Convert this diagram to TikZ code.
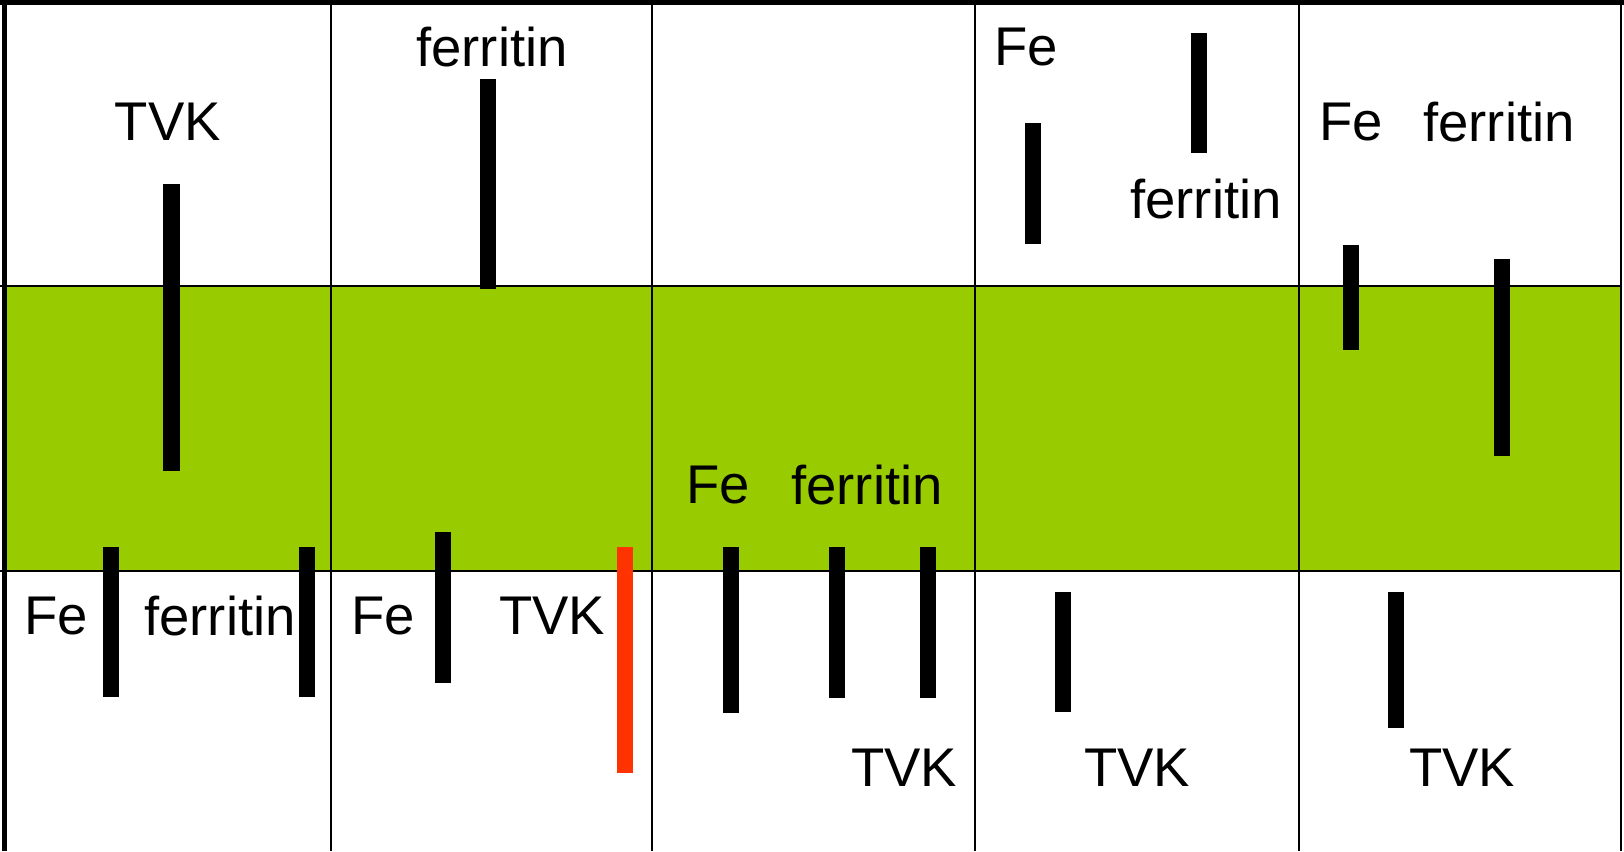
\documentclass[tikz,border=0pt]{standalone}
\usepackage{fontspec}
\setmainfont{Liberation Sans}
\definecolor{bandgreen}{HTML}{99CC00}
\definecolor{barred}{HTML}{FF3300}

\begin{document}
\begin{tikzpicture}[x=0.01cm, y=-0.01cm,
    lbl/.style={font=\fontsize{15.5}{18}\selectfont, inner sep=0pt},
    bar/.style={fill=black},
    redbar/.style={fill=barred},
    gridline/.style={line width=0.6pt},
    frame/.style={line width=1.45pt}]
    \useasboundingbox (0,0) rectangle (1624,851);

    % Green band
    \fill[bandgreen] (7,286) rectangle (1621,571);

    % Grid
    \draw[gridline] (0,286) -- (1621,286);
    \draw[gridline] (0,571) -- (1621,571);
    \foreach \x in {331,652,975,1299,1621}
        \draw[gridline] (\x,0) -- (\x,851);
    \draw[frame] (0,2.5) -- (1624,2.5);
    \draw[frame] (4.5,0) -- (4.5,851);

    % Column 1
    \node[lbl] (tvkA) at (168,122) {TVK};
    \fill[bar] (163,184) rectangle (180,471);
    \node[lbl] (feA) at (56,616) {Fe};
    \fill[bar] (103,547) rectangle (119,697);
    \node[lbl] (ferA) at (220,616) {ferritin};
    \fill[bar] (299,547) rectangle (315,697);

    % Column 2
    \node[lbl] (ferB) at (492,47) {ferritin};
    \fill[bar] (480,79) rectangle (496,289);
    \node[lbl] (feB) at (383,616) {Fe};
    \fill[bar] (435,532) rectangle (451,683);
    \node[lbl] (tvkB) at (552,616) {TVK};
    \fill[redbar] (617,547) rectangle (633,773);

    % Column 3
    \node[lbl] (feC) at (718,485) {Fe};
    \node[lbl] (ferC) at (867,485) {ferritin};
    \fill[bar] (723,547) rectangle (739,713);
    \fill[bar] (829,547) rectangle (845,698);
    \fill[bar] (920,547) rectangle (936,698);
    \node[lbl] (tvkC) at (904,768) {TVK};

    % Column 4
    \node[lbl] (feD) at (1026,47) {Fe};
    \fill[bar] (1025,123) rectangle (1041,244);
    \fill[bar] (1191,33) rectangle (1207,153);
    \node[lbl] (ferD) at (1206,199) {ferritin};
    \fill[bar] (1055,592) rectangle (1071,712);
    \node[lbl] (tvkD) at (1137,768) {TVK};

    % Column 5
    \node[lbl] (feE) at (1351,122) {Fe};
    \node[lbl] (ferE) at (1499,122) {ferritin};
    \fill[bar] (1343,245) rectangle (1359,350);
    \fill[bar] (1494,259) rectangle (1510,456);
    \fill[bar] (1388,592) rectangle (1404,728);
    \node[lbl] (tvkE) at (1462,768) {TVK};
\end{tikzpicture}
\end{document}
